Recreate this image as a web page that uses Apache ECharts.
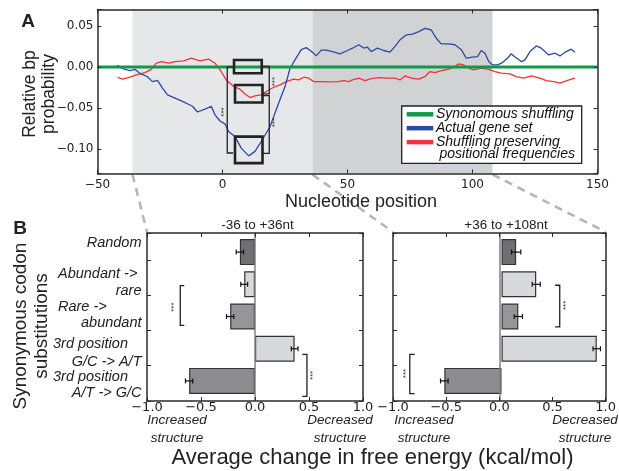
<!DOCTYPE html>
<html>
<head>
<meta charset="utf-8">
<script src="https://cdn.jsdelivr.net/npm/echarts@6/dist/echarts.min.js"></script>
<style>
  html, body { margin: 0; padding: 0; background: #fff; }
  #main { width: 619px; height: 471px; }
</style>
</head>
<body>
<div id="main"></div>
<script>
// ---- panel A data: relative bp probability vs nucleotide position ----
const actualGeneSet = [
  [-42, 0.002], [-40, -0.002], [-37, -0.0045], [-35, -0.003], [-33, -0.008], [-30, -0.012],
  [-28, -0.018], [-26, -0.0165], [-24, -0.026], [-22, -0.034], [-19, -0.038], [-16, -0.042],
  [-12, -0.048], [-10, -0.055], [-7, -0.0515], [-4.5, -0.048], [-3, -0.0585], [-1, -0.066],
  [1, -0.0695], [2.5, -0.079], [5, -0.085], [7.5, -0.099], [10.5, -0.1085], [13, -0.103],
  [15.5, -0.091], [19, -0.073], [22, -0.048], [25, -0.024], [27, -0.002], [29, 0.0085],
  [31.5, 0.021], [33.5, 0.0235], [35.5, 0.019], [37.5, 0.0135], [39.5, 0.0205], [41.5, 0.0205],
  [44, 0.0185], [47, 0.016], [50, 0.02], [52, 0.0228], [54.5, 0.027], [56.5, 0.023],
  [58, 0.024], [59.5, 0.0187], [62, 0.023], [64.5, 0.02], [67, 0.018], [69, 0.025],
  [71, 0.033], [73.5, 0.039], [76, 0.040], [78.5, 0.043], [81, 0.047], [83.5, 0.045],
  [85.5, 0.035], [87.5, 0.028], [90.5, 0.028], [93, 0.027], [95.5, 0.021], [97.5, 0.0106],
  [100, 0.012], [102, 0.0126], [103.5, 0.02], [105, 0.0167], [106.5, 0.0065], [108, 0.0024],
  [110, 0.0024], [112, 0.0053], [114, 0.0106], [115.5, 0.016], [117, 0.012], [119.5, 0.0065],
  [121, 0.0085], [123, 0.0187], [125.5, 0.0256], [127.5, 0.0228], [130.5, 0.0146], [133, 0.0167],
  [135, 0.0134], [137.5, 0.0187], [139.5, 0.0216], [141, 0.018]
]
const positionalShuffle = [
  [-42, -0.0126], [-40, -0.015], [-37, -0.0126], [-34.5, -0.0098], [-31, -0.007], [-28.5, -0.003],
  [-26.5, 0.0045], [-24.5, 0.0065], [-21.5, 0.0045], [-19, 0.0065], [-15.5, 0.0073], [-12.5, 0.0106],
  [-9, 0.0073], [-5.5, 0.0094], [-3, 0.0045], [-1, -0.0035], [1.5, -0.0159], [4.5, -0.024],
  [7, -0.0272], [9, -0.033], [11, -0.0374], [13, -0.0354], [15.5, -0.034], [17.5, -0.030],
  [20.5, -0.0248], [23, -0.022], [25.5, -0.018], [28.5, -0.015], [30.5, -0.0159], [32.5, -0.0126],
  [34.5, -0.0138], [36.5, -0.018], [39, -0.018], [43, -0.0183], [46, -0.018], [48.5, -0.0167],
  [50.5, -0.018], [52, -0.0159], [54.5, -0.0138], [57, -0.0167], [59.5, -0.0142], [62.5, -0.013],
  [65.5, -0.0138], [69, -0.0138], [71, -0.0159], [73, -0.011], [75.5, -0.0138], [78.5, -0.015],
  [81, -0.0118], [83, -0.0057], [85, -0.007], [87.5, -0.0045], [90.5, -0.0028], [92.5, -0.0004],
  [94.5, 0.0037], [96.5, 0.0024], [98.5, -0.0016], [100.5, -0.0037], [103.5, -0.0016], [106.5, -0.003],
  [109, -0.0057], [111.5, -0.0077], [115, -0.0085], [117.5, -0.0118], [120.5, -0.0138], [123.5, -0.011],
  [127, -0.0138], [129.5, -0.0167], [132.5, -0.018], [135, -0.0199], [137.5, -0.017], [139.5, -0.015],
  [141, -0.0138]
]
const synonymousShuffle = [[-50, 0], [150, 0]]
const windows = [[-36, 36], [36, 108]]

// annotations of panel A, in data units
const boxes = [[4.6, 15.7, 0.0085, -0.0077], [5, 16, -0.022, -0.0435], [5, 16, -0.085, -0.1174]]
const bracketsA = [[1.9, 4.2, 0, -0.105], [18.7, 15.8, 0.0005, -0.033], [18.7, 15.8, -0.035, -0.1055]]
const starsA = [[0.5, -0.055], [21, -0.018], [21, -0.068]]

// ---- panel B data: average change in free energy ----
const categories = ['Random', 'Abundant -> rare', 'Rare -> abundant', '3rd position G/C -> A/T', '3rd position A/T -> G/C']
const earlyValues = [-0.14, -0.10, -0.23, 0.367, -0.61]
const earlyErrors = [0.034, 0.032, 0.034, 0.031, 0.034]
const lateValues = [0.135, 0.32, 0.155, 0.878, -0.527]
const lateErrors = [0.043, 0.037, 0.038, 0.034, 0.035]
const bracketsEarly = [[-0.692, -0.655, 3.27, 2.14], [0.481, 0.438, 1.32, 0.13]]
const starsEarly = [[-0.75, 2.66], [0.533, 0.73]]
const bracketsLate = [[0.568, 0.525, 3.28, 2.10], [-0.842, -0.796, 1.32, 0.21]]
const starsLate = [[0.623, 2.71], [-0.879, 0.78]]
const xTicksB = [-1, -0.5, 0, 0.5, 1]

const barColors = ['#707073', '#d8d9db', '#969699', '#d8d9db', '#8d8d90']
const green = '#0f9a4b', blue = '#2c4aa4', red = '#f0333a'
const ink = '#222'
const tickFont = 'DejaVu Sans'
const textFont = 'Liberation Sans'
const minus = s => String(s).replace('-', '\u2212')

const chart = echarts.init(document.getElementById('main'))

// 边框轴：线 + 向内的刻度
function frameAxis(extra) {
  return Object.assign({
    type: 'value',
    z: 5,
    axisLine: { show: true, onZero: false, lineStyle: { color: '#2b2b2b', width: 1.5 } },
    axisTick: { show: true, inside: true, length: 4, lineStyle: { color: '#2b2b2b', width: 1 } },
    axisLabel: { show: false },
    splitLine: { show: false }
  }, extra)
}
const tickLabel = (margin, size, formatter) => ({ show: true, margin: margin, fontFamily: tickFont, fontSize: size, color: ink, formatter: formatter })
const probFmt = v => {
  const k = v / 0.05
  if (Math.abs(k - Math.round(k)) > 1e-6) return ''
  return minus((Math.round(k) * 0.05).toFixed(2))
}
const energyFmt = v => minus(v.toFixed(1))

function boxItem(params, api) {
  const a = api.coord([api.value(0), api.value(2)])
  const b = api.coord([api.value(1), api.value(3)])
  return { type: 'rect', shape: { x: a[0], y: a[1], width: b[0] - a[0], height: b[1] - a[1] },
    style: { fill: 'none', stroke: ink, lineWidth: 2.6 } }
}
function bracketItem(params, api) {
  const xl = api.value(0), xt = api.value(1), y0 = api.value(2), y1 = api.value(3)
  const pts = [[xt, y0], [xl, y0], [xl, y1], [xt, y1]].map(p => api.coord(p))
  return { type: 'polyline', shape: { points: pts }, style: { fill: 'none', stroke: ink, lineWidth: 1.3 } }
}
function starItem(params, api) {
  const p = api.coord([api.value(0), api.value(1)])
  return { type: 'text', x: p[0], y: p[1], rotation: Math.PI / 2,
    style: { text: '***', fontSize: 8, fontFamily: textFont, fill: '#333', align: 'center', verticalAlign: 'middle' } }
}
function errorItem(params, api) {
  const v = api.value(0), e = api.value(2), i = params.dataIndex
  const lo = api.coord([v - e, i]), hi = api.coord([v + e, i])
  const st = { stroke: '#111', lineWidth: 1.2 }
  return { type: 'group', children: [
    { type: 'line', shape: { x1: lo[0], y1: lo[1], x2: hi[0], y2: hi[1] }, style: st },
    { type: 'line', shape: { x1: lo[0], y1: lo[1] - 2.5, x2: lo[0], y2: lo[1] + 2.5 }, style: st },
    { type: 'line', shape: { x1: hi[0], y1: hi[1] - 2.5, x2: hi[0], y2: hi[1] + 2.5 }, style: st }
  ] }
}

function panelBSeries(frameX, frameY, barX, barY, values, errors, brackets, stars) {
  return [
    {
      type: 'bar', xAxisIndex: barX, yAxisIndex: barY, barWidth: 26,
      data: values.map((v, i) => ({ value: v, itemStyle: { color: barColors[i] } })),
      itemStyle: { borderColor: '#333', borderWidth: 1.2 }, z: 2
    },
    {
      type: 'custom', xAxisIndex: barX, yAxisIndex: barY, z: 4,
      data: values.map((v, i) => [v, i, errors[i]]), renderItem: errorItem
    },
    {
      type: 'custom', xAxisIndex: frameX, yAxisIndex: frameY, z: 4,
      data: brackets, renderItem: bracketItem,
      markLine: { silent: true, symbol: 'none', label: { show: false },
        lineStyle: { color: '#808080', width: 1.5, type: 'solid' }, data: [{ xAxis: 0 }] }
    },
    { type: 'custom', xAxisIndex: frameX, yAxisIndex: frameY, z: 4, data: stars, renderItem: starItem }
  ]
}

const option = {
  animation: false,
  grid: [
    { left: 97.5, top: 9.5, width: 500, height: 164 },
    { left: 147, top: 233, width: 216, height: 168 },
    { left: 147, top: 236, width: 216, height: 161 },
    { left: 393, top: 233, width: 217, height: 168 },
    { left: 393, top: 236, width: 217, height: 161 }
  ],
  xAxis: [
    frameAxis({ gridIndex: 0, position: 'bottom', min: -50, max: 150, interval: 50, axisLabel: tickLabel(5, 12, v => minus(v)) }),
    frameAxis({ gridIndex: 0, position: 'top', min: -50, max: 150, interval: 50 }),
    frameAxis({ gridIndex: 1, position: 'bottom', min: xTicksB[0], max: xTicksB[4], interval: 0.5, axisLabel: tickLabel(0, 13, energyFmt) }),
    frameAxis({ gridIndex: 1, position: 'top', min: -1, max: 1, interval: 0.5 }),
    { type: 'value', gridIndex: 2, min: -1, max: 1, show: false },
    frameAxis({ gridIndex: 3, position: 'bottom', min: xTicksB[0], max: xTicksB[4], interval: 0.5, axisLabel: tickLabel(0, 13, energyFmt) }),
    frameAxis({ gridIndex: 3, position: 'top', min: -1, max: 1, interval: 0.5 }),
    { type: 'value', gridIndex: 4, min: -1, max: 1, show: false }
  ],
  yAxis: [
    frameAxis({ gridIndex: 0, position: 'left', min: -0.13, max: 0.07, splitNumber: 4, axisLabel: tickLabel(4, 12, probFmt) }),
    frameAxis({ gridIndex: 0, position: 'right', min: -0.13, max: 0.07, splitNumber: 4 }),
    frameAxis({ gridIndex: 1, position: 'left', min: 0, max: 4.76, interval: 1 }),
    frameAxis({ gridIndex: 1, position: 'right', min: 0, max: 4.76, interval: 1 }),
    { type: 'category', gridIndex: 2, data: categories, inverse: true, show: false },
    frameAxis({ gridIndex: 3, position: 'left', min: 0, max: 4.76, interval: 1 }),
    frameAxis({ gridIndex: 3, position: 'right', min: 0, max: 4.76, interval: 1 }),
    { type: 'category', gridIndex: 4, data: categories, inverse: true, show: false }
  ],
  series: [
    {
      type: 'line', xAxisIndex: 0, yAxisIndex: 0, data: [], z: 1,
      markArea: { silent: true, data: windows.map((w, i) => [
        { xAxis: w[0], itemStyle: { color: i === 0 ? '#e6e7e9' : '#d1d2d4' } }, { xAxis: w[1] }
      ]) }
    },
    { name: 'Shuffling preserving positional frequencies', type: 'line', xAxisIndex: 0, yAxisIndex: 0, data: positionalShuffle,
      showSymbol: false, lineStyle: { color: red, width: 1.3 }, itemStyle: { color: red }, z: 2 },
    { name: 'Actual gene set', type: 'line', xAxisIndex: 0, yAxisIndex: 0, data: actualGeneSet,
      showSymbol: false, lineStyle: { color: blue, width: 1.3 }, itemStyle: { color: blue }, z: 2 },
    { name: 'Synonomous shuffling', type: 'line', xAxisIndex: 0, yAxisIndex: 0, data: synonymousShuffle,
      showSymbol: false, lineStyle: { color: green, width: 3 }, itemStyle: { color: green }, z: 3 },
    { type: 'custom', xAxisIndex: 0, yAxisIndex: 0, z: 4, data: boxes, renderItem: boxItem },
    { type: 'custom', xAxisIndex: 0, yAxisIndex: 0, z: 4, data: bracketsA, renderItem: bracketItem },
    { type: 'custom', xAxisIndex: 0, yAxisIndex: 0, z: 4, data: starsA, renderItem: starItem }
  ]
    .concat(panelBSeries(2, 2, 4, 4, earlyValues, earlyErrors, bracketsEarly, starsEarly))
    .concat(panelBSeries(5, 5, 7, 7, lateValues, lateErrors, bracketsLate, starsLate))
}
chart.setOption(option)

// ---- text, legend and the dashed zoom lines ----
function txt(text, x, y, o) {
  return { type: 'text', x: x, y: y, rotation: o.rotation || 0, z: 50,
    style: Object.assign({ text: text, fontFamily: textFont, fill: ink, align: 'center', verticalAlign: 'middle' }, o.style) }
}
const italic = (size, align) => ({ style: { fontSize: size, fontStyle: 'italic', align: align || 'center' } })

const gA = { gridIndex: 0 }
const bottomA = -0.13
const dashes = [
  [chart.convertToPixel(gA, [windows[0][0], bottomA]), chart.convertToPixel({ xAxisIndex: 2, yAxisIndex: 2 }, [-1, 4.76])],
  [chart.convertToPixel(gA, [windows[1][0], bottomA]), chart.convertToPixel({ xAxisIndex: 5, yAxisIndex: 5 }, [-1, 4.76])],
  [chart.convertToPixel(gA, [windows[1][1], bottomA]), chart.convertToPixel({ xAxisIndex: 5, yAxisIndex: 5 }, [1, 4.76])]
].map(d => ({ type: 'line', z: 1, shape: { x1: d[0][0], y1: d[0][1] + 1, x2: d[1][0], y2: d[1][1] - 1 },
  style: { stroke: '#b4b4b4', lineWidth: 2.5, lineDash: [8, 6] } }))

// legend drawn by hand so the wrapped red entry keeps its line on the first row
const legendItems = [
  { name: 'Synonomous shuffling', color: green },
  { name: 'Actual gene set', color: blue },
  { name: 'Shuffling preserving', color: red }
]
const legendFont = { fontFamily: textFont, fontSize: 14, fontStyle: 'italic', fill: '#111', align: 'left', verticalAlign: 'middle' }
const legend = [
  { type: 'rect', z: 100, shape: { x: 401.7, y: 106, width: 180, height: 57.3 }, style: { fill: '#fff', stroke: ink, lineWidth: 1.3 } }
].concat(legendItems.map((it, i) => ({
  type: 'line', z: 101, shape: { x1: 406.7, y1: 114.3 + i * 13.9, x2: 433.3, y2: 114.3 + i * 13.9 }, style: { stroke: it.color, lineWidth: 4.5 }
}))).concat(legendItems.map((it, i) => ({
  type: 'text', z: 101, x: 436, y: 114.5 + i * 13.9, style: Object.assign({ text: it.name }, legendFont)
}))).concat([
  { type: 'text', z: 101, x: 439.5, y: 154, style: Object.assign({ text: 'positional frequencies' }, legendFont) }
])

const texts = [
  txt('A', 28, 21.5, { style: { fontSize: 19, fontWeight: 'bold' } }),
  txt('B', 20, 228.5, { style: { fontSize: 19, fontWeight: 'bold' } }),
  txt('Relative bp\nprobability', 40, 94, { rotation: Math.PI / 2, style: { fontSize: 17.5, lineHeight: 19 } }),
  txt('Nucleotide position', 361, 202, { style: { fontSize: 18 } }),
  txt('Synonymous codon\nsubstitutions', 31.5, 326, { rotation: Math.PI / 2, style: { fontSize: 19, lineHeight: 21 } }),
  txt('-36 to +36nt', 257.5, 225, { style: { fontSize: 13.5 } }),
  txt('+36 to +108nt', 506, 225, { style: { fontSize: 13.5 } }),
  txt('Average change in free energy (kcal/mol)', 372.5, 458, { style: { fontSize: 22 } }),
  // category labels
  txt('Random', 141.5, 243.3, italic(14.5, 'right')),
  txt('Abundant ->', 58, 274.3, italic(14.5, 'left')),
  txt('rare', 141.5, 291, italic(14.5, 'right')),
  txt('Rare ->', 58, 306.7, italic(14.5, 'left')),
  txt('abundant', 141.5, 323.3, italic(14.5, 'right')),
  txt('3rd position', 53, 344, italic(14.5, 'left')),
  txt('G/C -> A/T', 141.5, 361.7, italic(14.5, 'right')),
  txt('3rd position', 53, 376.7, italic(14.5, 'left')),
  txt('A/T -> G/C', 141.5, 393.3, italic(14.5, 'right')),
  // direction hints
  txt('Increased\nstructure', 177, 429, { style: { fontSize: 13.5, fontStyle: 'italic', lineHeight: 17.5 } }),
  txt('Decreased\nstructure', 340, 429, { style: { fontSize: 13.5, fontStyle: 'italic', lineHeight: 17.5 } }),
  txt('Increased\nstructure', 424, 429, { style: { fontSize: 13.5, fontStyle: 'italic', lineHeight: 17.5 } }),
  txt('Decreased\nstructure', 585, 429, { style: { fontSize: 13.5, fontStyle: 'italic', lineHeight: 17.5 } })
]

chart.setOption({ graphic: dashes.concat(texts).concat(legend) })
</script>
</body>
</html>
